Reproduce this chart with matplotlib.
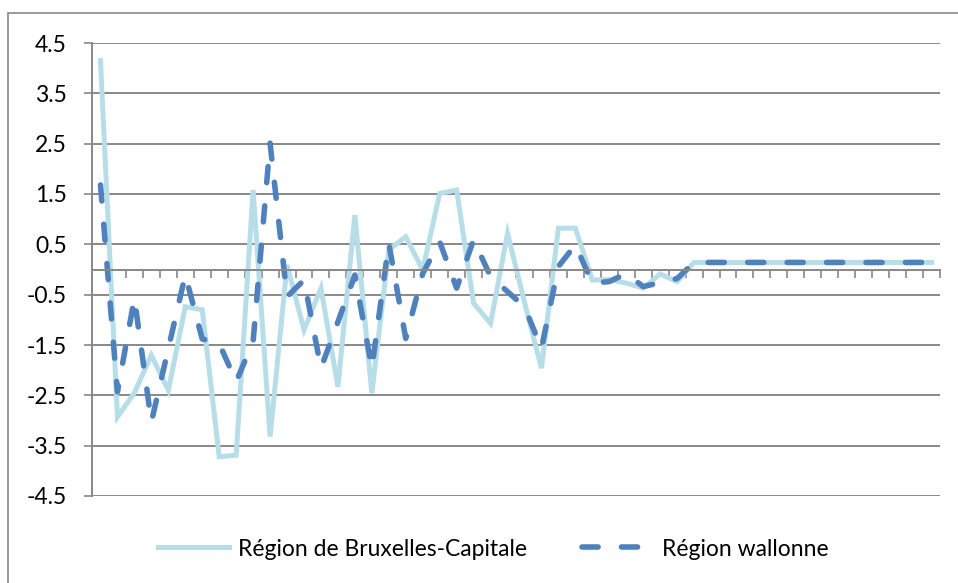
import numpy as np
import matplotlib
matplotlib.use("Agg")
import matplotlib.pyplot as plt
from matplotlib.patches import Rectangle

plt.rcParams['font.family'] = ['Lato', 'DejaVu Sans']

# values (50 periods)
bruxelles = [4.15, -2.93, -2.45, -1.70, -2.40, -0.74, -0.80, -3.72, -3.69, 1.58,
             -3.32, 0.09, -1.20, -0.37, -2.33, 1.08, -2.46, 0.39, 0.65, -0.01,
             1.51, 1.58, -0.67, -1.07, 0.72, -0.65, -1.96, 0.82, 0.82, -0.21,
             -0.20, -0.27, -0.37, -0.09, -0.24, 0.14] + [0.14] * 14
wallonne = [1.68, -2.43, -0.57, -3.03, -1.57, -0.11, -1.38, -1.47, -2.23, -1.43,
            2.51, -0.54, -0.21, -1.96, -1.04, -0.11, -1.96, 0.52, -1.37, -0.08,
            0.55, -0.37, 0.59, -0.14, -0.44, -0.74, -1.57, 0.06, 0.49, -0.27,
            -0.24, -0.08, -0.34, -0.26, -0.18, 0.14] + [0.14] * 14
ytick_vals = [-4.5, -3.5, -2.5, -1.5, -0.5, 0.5, 1.5, 2.5, 3.5, 4.5]
ytick_labels = ['-4.5', '-3.5', '-2.5', '-1.5', '-0.5', '0.5', '1.5', '2.5', '3.5', '4.5']

grey = '#888888'
x = np.arange(len(bruxelles))

fig = plt.figure(figsize=(9.58, 5.83), dpi=100)
ax = fig.add_axes([92/958, 1-496/583, (940-92)/958, (496-43)/583])

ax.plot(x, bruxelles, color='#B7DEE8', lw=3.6, solid_joinstyle='miter',
        label='Région de Bruxelles-Capitale')
ax.plot(x, wallonne, color='#4F81BD', lw=4.0, dashes=(2.9, 4.2),
        dash_capstyle='round', label='Région wallonne')

ax.set_xlim(-0.5, len(bruxelles) - 0.5)
ax.set_ylim(-4.5, 4.5)
ax.set_yticks(ytick_vals)
ax.set_yticklabels(ytick_labels)
ax.set_xticks(np.arange(-0.5, len(bruxelles), 1.0))
ax.set_xticklabels([])
ax.yaxis.grid(True, color=grey, lw=1.4)
ax.set_axisbelow(True)

for s in ['top', 'right']:
    ax.spines[s].set_visible(False)
ax.spines['bottom'].set_position(('data', 0))
ax.spines['bottom'].set_color(grey)
ax.spines['left'].set_color(grey)
ax.spines['bottom'].set_linewidth(1.4)
ax.spines['left'].set_linewidth(1.4)
ax.tick_params(axis='x', direction='out', length=6, width=1.2, color=grey)
ax.tick_params(axis='y', direction='out', length=6, width=1.2, color=grey,
               labelsize=16.5, pad=12, labelcolor='black')

ax.legend(loc='center', bbox_to_anchor=(0.515, 1-549/583),
          bbox_transform=fig.transFigure, ncol=2, frameon=False,
          fontsize=16.5, handlelength=3.1, handletextpad=0.4, columnspacing=2.4)

# outer chart border (cropped on the right and bottom)
fig.patches.append(Rectangle((8/958, -0.1), 1.2, 1.1-13/583, transform=fig.transFigure,
                             fill=False, edgecolor=grey, lw=1.2, clip_on=False))

fig.savefig('out.png', dpi=100)
